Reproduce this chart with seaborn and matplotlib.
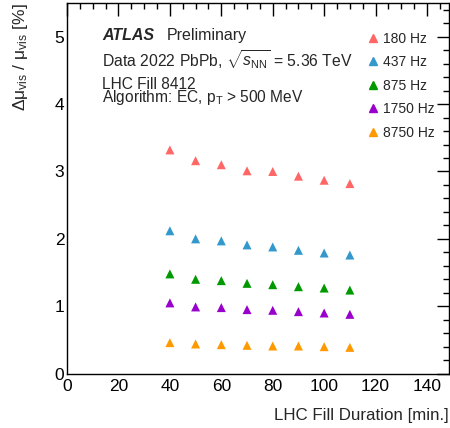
import numpy as np
import pandas as pd
import matplotlib
matplotlib.use("Agg")
import matplotlib.pyplot as plt
import seaborn as sns
from matplotlib.ticker import MultipleLocator

# data
duration = [40, 50, 60, 70, 80, 90, 100, 110]
rate_180 = [3.32, 3.16, 3.10, 3.01, 3.00, 2.93, 2.87, 2.82]
rate_437 = [2.12, 2.00, 1.97, 1.91, 1.88, 1.83, 1.79, 1.76]
rate_875 = [1.48, 1.40, 1.38, 1.34, 1.32, 1.29, 1.27, 1.24]
rate_1750 = [1.05, 0.99, 0.98, 0.95, 0.94, 0.92, 0.90, 0.88]
rate_8750 = [0.46, 0.44, 0.43, 0.42, 0.41, 0.41, 0.40, 0.39]
labels = ["180 Hz", "437 Hz", "875 Hz", "1750 Hz", "8750 Hz"]
colors = ["#ff6666", "#3399cc", "#009900", "#9900cc", "#ff9900"]

series = [rate_180, rate_437, rate_875, rate_1750, rate_8750]
df = pd.concat([pd.DataFrame({"Duration": duration, "Delta": s, "Rate": lab})
                for s, lab in zip(series, labels)], ignore_index=True)

sns.set_theme(style="white")
plt.rcParams["font.family"] = ["Liberation Sans", "DejaVu Sans"]
plt.rcParams["mathtext.fontset"] = "custom"
plt.rcParams["mathtext.rm"] = "Liberation Sans"
plt.rcParams["mathtext.it"] = "Liberation Sans:italic"
plt.rcParams["mathtext.bf"] = "Liberation Sans:bold"

fig = plt.figure(figsize=(4.5, 4.28), dpi=100)
ax = fig.add_axes([0.149, 0.127, 0.849, 0.866])

sns.scatterplot(ax=ax, data=df, x="Duration", y="Delta", hue="Rate",
                palette=dict(zip(labels, colors)), marker="^", s=42,
                edgecolor="none", legend=False)

ax.set_xlim(0, 148.6)
ax.set_ylim(0, 5.5)
ax.xaxis.set_major_locator(MultipleLocator(20))
ax.xaxis.set_minor_locator(MultipleLocator(5))
ax.yaxis.set_major_locator(MultipleLocator(1))
ax.yaxis.set_minor_locator(MultipleLocator(0.2))
ax.tick_params(which="both", direction="in", top=True, right=True,
               colors="black", labelsize=12.5)
ax.tick_params(which="major", length=9, width=1)
ax.tick_params(which="minor", length=4.5, width=1)
ax.tick_params(axis="y", pad=2)
ax.tick_params(axis="x", pad=4)
for sp in ax.spines.values():
    sp.set_color("black")
    sp.set_linewidth(1)

ax.set_xlabel("LHC Fill Duration [min.]", fontsize=12.2, ha="right")
ax.xaxis.set_label_coords(1.0, -0.093)
ax.set_ylabel(r"$\Delta\mathrm{\mu}_{\rm vis}$ / $\mathrm{\mu}_{\rm vis}$ [%]",
              fontsize=12.5, ha="right")
ax.yaxis.set_label_coords(-0.098, 1.0)

# ATLAS text block
ax.text(0.092, 0.900, "ATLAS", transform=ax.transAxes, fontsize=11.5,
        fontweight="bold", style="italic", va="baseline")
ax.text(0.262, 0.900, "Preliminary", transform=ax.transAxes, fontsize=11.5,
        va="baseline")
ax.text(0.092, 0.828, r"Data 2022 PbPb, $\sqrt{s_{\rm NN}}$ = 5.36 TeV",
        transform=ax.transAxes, fontsize=11.3, va="baseline")
# two tight lines kept as one text block (baseline = last line)
ax.text(0.092, 0.734, "LHC Fill 8412\n" + r"Algorithm: EC, p$_{\rm T}$ > 500 MeV",
        transform=ax.transAxes, fontsize=11.2, va="baseline", linespacing=0.68)

# legend
handles = [plt.Line2D([], [], marker="^", color=c, linestyle="none",
                      markersize=5.5) for c in colors]
ax.legend(handles, labels, loc="upper right", bbox_to_anchor=(0.963, 0.922),
          frameon=False, fontsize=10, handletextpad=0.1, labelspacing=0.68,
          handlelength=1.2, borderaxespad=0, borderpad=0)

fig.savefig("out.png", dpi=100)
